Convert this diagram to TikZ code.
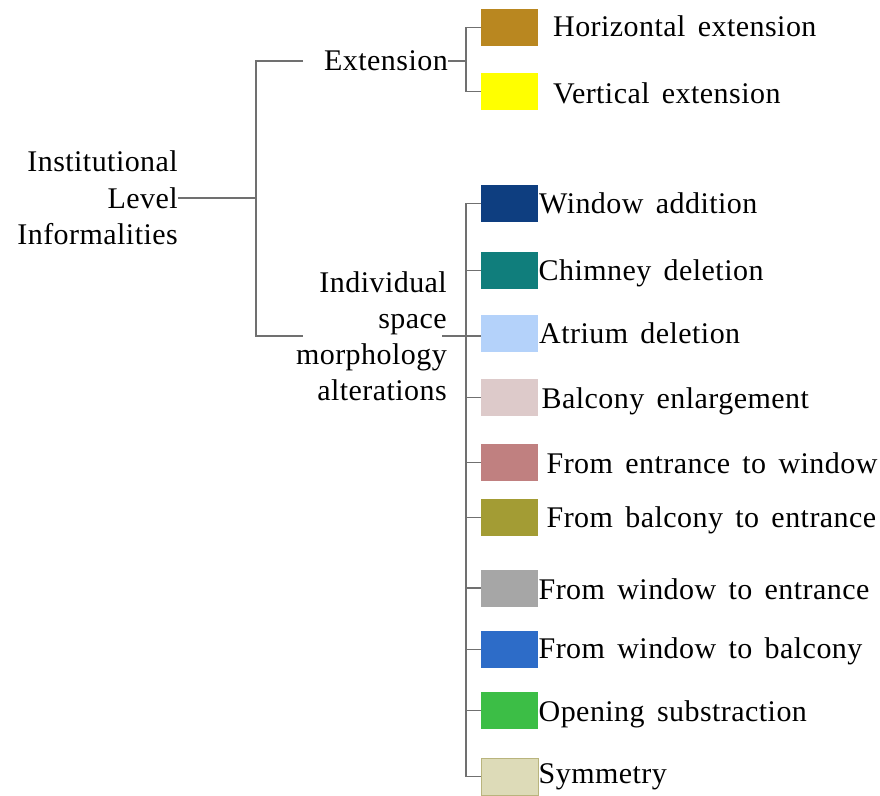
\documentclass[tikz,border=0pt]{standalone}
\usepackage{fontspec}
\setmainfont[LetterSpace=1.5,WordSpace=1.55]{Liberation Serif}
\usepackage{tikz}
\usetikzlibrary{calc}

\definecolor{linegray}{RGB}{112,112,112}
\definecolor{hzcol}{RGB}{185,135,32}
\definecolor{vtcol}{RGB}{255,255,0}
\definecolor{wacol}{RGB}{14,62,128}
\definecolor{chcol}{RGB}{16,126,124}
\definecolor{atcol}{RGB}{180,210,250}
\definecolor{bacol}{RGB}{221,202,202}
\definecolor{ewcol}{RGB}{192,128,128}
\definecolor{becol}{RGB}{163,156,52}
\definecolor{wecol}{RGB}{166,166,166}
\definecolor{wbcol}{RGB}{45,108,200}
\definecolor{oscol}{RGB}{60,190,70}
\definecolor{sycol}{RGB}{221,219,184}
\definecolor{sybord}{RGB}{185,180,125}

\tikzset{
    branch/.style={draw=linegray, line width=1.3pt},
    swatch/.style={anchor=west, minimum width=57pt, minimum height=37pt, inner sep=0pt},
    lab/.style={anchor=base west, inner sep=0pt, font=\fontsize{30}{37}\selectfont},
    head/.style={anchor=east, inner sep=0pt, align=right},
}

\begin{document}
\begin{tikzpicture}[x=1pt,y=-1pt]
        \useasboundingbox (0,0) rectangle (880,795);

        % left part
        \node[head, font=\fontsize{30}{36.7}\selectfont] (root) at (178,198) {Institutional\\Level\\Informalities};
        \node[head, font=\fontsize{30}{37}\selectfont] (ext) at (448,61) {Extension};
        \node[head, font=\fontsize{30}{35.9}\selectfont] (alt) at (447,336) {Individual\\space\\morphology\\alterations};

        \coordinate (lfork) at (256,198);
        \coordinate (extstub) at (303,61);
        \coordinate (altstub) at (303,336);
        \draw[branch] (root.east) -- (lfork);
        \draw[branch] (extstub) -| (lfork) |- (altstub);

        % extension group
        \node[swatch, fill=hzcol] (hzsw) at (481,27.8) {};
        \node[swatch, fill=vtcol] (vtsw) at (481,91.3) {};
        \node[lab] (hzlab) at (553,36.7) {Horizontal extension};
        \node[lab] (vtlab) at (553,103.3) {Vertical extension};

        \coordinate (efork) at (466,61);
        \draw[branch] (ext.east) -- (efork);
        \draw[branch] (hzsw.west) -| (efork) |- (vtsw.west);

        % alteration group
        \node[swatch, fill=wacol] (wasw) at (481,203.8) {};
        \node[swatch, fill=chcol] (chsw) at (481,270.2) {};
        \node[swatch, fill=atcol] (atsw) at (481,333.5) {};
        \node[swatch, fill=bacol] (basw) at (481,397.8) {};
        \node[swatch, fill=ewcol] (ewsw) at (481,462.7) {};
        \node[swatch, fill=becol] (besw) at (481,517.7) {};
        \node[swatch, fill=wecol] (wesw) at (481,588) {};
        \node[swatch, fill=wbcol] (wbsw) at (481,649.3) {};
        \node[swatch, fill=oscol] (ossw) at (481,710.8) {};
        \node[swatch, fill=sycol, draw=sybord, line width=0.8pt] (sysw) at (481,776.5) {};

        \node[lab] (walab) at (539,213.3) {Window addition};
        \node[lab] (chlab) at (538.5,280) {Chimney deletion};
        \node[lab] (atlab) at (539,343.3) {Atrium deletion};
        \node[lab] (balab) at (541.5,408) {Balcony enlargement};
        \node[lab] (ewlab) at (546.5,473.3) {From entrance to window};
        \node[lab] (belab) at (546.5,527.7) {From balcony to entrance};
        \node[lab] (welab) at (538.5,599.3) {From window to entrance};
        \node[lab] (wblab) at (538.5,658.3) {From window to balcony};
        \node[lab] (oslab) at (538.5,721.7) {Opening substraction};
        \node[lab] (sylab) at (538.5,783.3) {Symmetry};

        \draw[branch] ([xshift=-5pt]alt.east) -- (alt.east -| atsw.west);
        \draw[branch] (wasw.west) -- ++(-15,0) |- (sysw.west);
        \draw[branch] (chsw.west) -- ++(-15,0);
        \draw[branch] (basw.west) -- ++(-15,0);
        \draw[branch] (ewsw.west) -- ++(-15,0);
        \draw[branch] (besw.west) -- ++(-15,0);
        \draw[branch] (wesw.west) -- ++(-15,0);
        \draw[branch] (wbsw.west) -- ++(-15,0);
        \draw[branch] (ossw.west) -- ++(-15,0);
    \end{tikzpicture}
\end{document}
